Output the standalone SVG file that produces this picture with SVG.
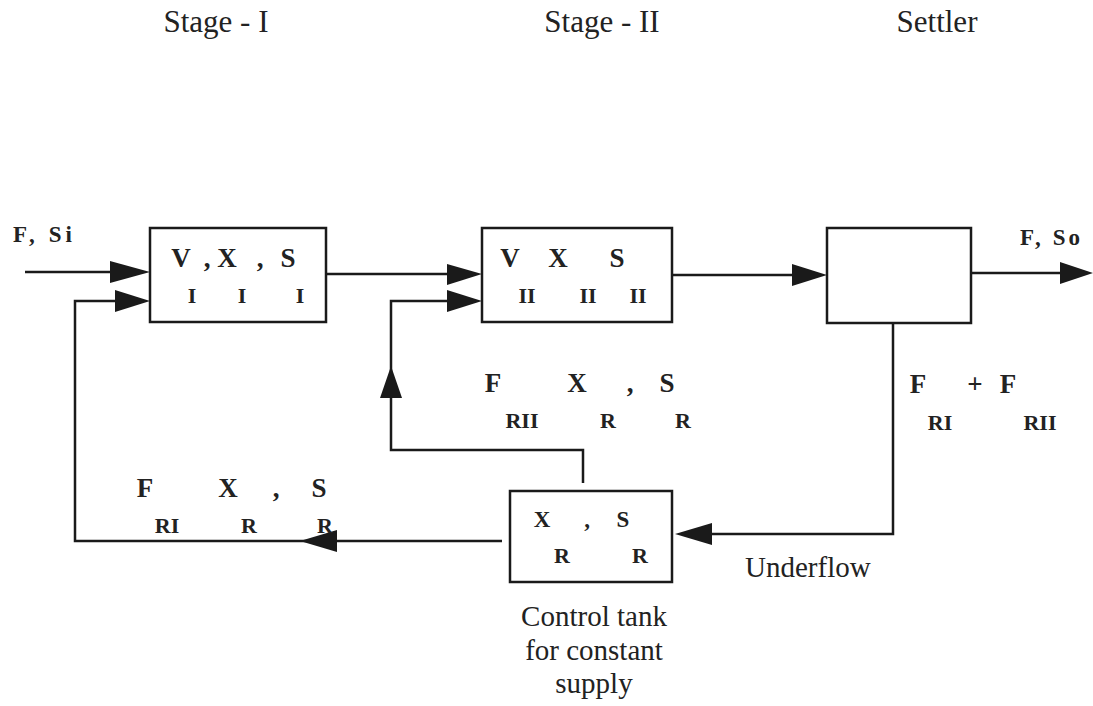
<svg xmlns="http://www.w3.org/2000/svg" width="1093" height="706" viewBox="0 0 1093 706">
<style>
  .bg { fill: #ffffff; }
  .box { fill: none; stroke: #1a1a1a; stroke-width: 2.5; }
  .line { fill: none; stroke: #1a1a1a; stroke-width: 2.5; stroke-linejoin: miter; }
  .head { fill: #1a1a1a; stroke: none; }
  text { font-family: "Liberation Serif", "DejaVu Serif", "Times New Roman", serif; fill: #222; }
  .title { font-size: 31px; }
  .cap { font-size: 29px; }
  .sym { font-size: 27px; font-weight: bold; text-anchor: middle; }
  .sub { font-size: 22px; font-weight: bold; text-anchor: middle; }
  .symS { font-size: 23px; font-weight: bold; text-anchor: middle; }
  .flow { font-size: 23px; font-weight: bold; }
</style>
<rect class="bg" x="0" y="0" width="1093" height="706"/>

<g id="titles">
  <text class="title" x="216" y="32" text-anchor="middle">Stage - I</text>
  <text class="title" x="602" y="32" text-anchor="middle">Stage - II</text>
  <text class="title" x="937" y="32" text-anchor="middle">Settler</text>
</g>

<g id="connectors">
  <!-- feed into stage I -->
  <path class="line" d="M25 272 H112"/>
  <polygon class="head" points="110,261 150,272 110,283"/>
  <!-- recycle RI into stage I -->
  <path class="line" d="M502 541 H75 V301 H117"/>
  <polygon class="head" points="115,290 150,301 115,312"/>
  <polygon class="head" points="300,541 337,530 337,552"/>
  <!-- stage I to stage II -->
  <path class="line" d="M326 274 H449"/>
  <polygon class="head" points="447,264 482,274 447,285"/>
  <!-- recycle RII into stage II -->
  <path class="line" d="M583 483 V450 H391 V301 H449"/>
  <polygon class="head" points="447,290 482,301 447,312"/>
  <polygon class="head" points="391,366 380,398 402,398"/>
  <!-- stage II to settler -->
  <path class="line" d="M672 275 H794"/>
  <polygon class="head" points="792,264 827,275 792,286"/>
  <!-- settler out -->
  <path class="line" d="M971 273 H1062"/>
  <polygon class="head" points="1060,262 1093,273 1060,284"/>
  <!-- underflow -->
  <path class="line" d="M893 323 V534 H710"/>
  <polygon class="head" points="675,534 712,523 712,545"/>
</g>

<g id="stage1">
  <rect class="box" x="150" y="228" width="176" height="94"/>
  <text class="sym" x="181" y="267">V</text>
  <text class="sym" x="207" y="267">,</text>
  <text class="sym" x="227" y="267">X</text>
  <text class="sym" x="260" y="267">,</text>
  <text class="sym" x="288" y="267">S</text>
  <text class="sub" x="192" y="303">I</text>
  <text class="sub" x="242" y="303">I</text>
  <text class="sub" x="300" y="303">I</text>
</g>

<g id="stage2">
  <rect class="box" x="482" y="228" width="190" height="94"/>
  <text class="sym" x="510" y="267">V</text>
  <text class="sym" x="558" y="267">X</text>
  <text class="sym" x="617" y="267">S</text>
  <text class="sub" x="527" y="303">II</text>
  <text class="sub" x="588" y="303">II</text>
  <text class="sub" x="638" y="303">II</text>
</g>

<g id="settler">
  <rect class="box" x="827" y="228" width="144" height="95"/>
</g>

<g id="control-tank">
  <rect class="box" x="510" y="491" width="162" height="91"/>
  <text class="symS" x="542" y="527">X</text>
  <text class="symS" x="587" y="527">,</text>
  <text class="symS" x="623" y="527">S</text>
  <text class="sub" x="562" y="563">R</text>
  <text class="sub" x="640" y="563">R</text>
  <text class="cap" x="594" y="626" text-anchor="middle">Control tank</text>
  <text class="cap" x="594" y="660" text-anchor="middle">for constant</text>
  <text class="cap" x="594" y="693" text-anchor="middle">supply</text>
</g>

<g id="labels">
  <text class="flow" x="13" y="242" textLength="59">F, Si</text>
  <text class="flow" x="1020" y="245" textLength="60">F, So</text>
  <!-- RII recycle label -->
  <text class="sym" x="493" y="392">F</text>
  <text class="sym" x="577" y="392">X</text>
  <text class="sym" x="630" y="392">,</text>
  <text class="sym" x="667" y="392">S</text>
  <text class="sub" x="522" y="428">RII</text>
  <text class="sub" x="608" y="428">R</text>
  <text class="sub" x="683" y="428">R</text>
  <!-- underflow label -->
  <text class="sym" x="918" y="393">F</text>
  <text class="sym" x="975" y="393">+</text>
  <text class="sym" x="1008" y="393">F</text>
  <text class="sub" x="940" y="430">RI</text>
  <text class="sub" x="1040" y="430">RII</text>
  <!-- RI recycle label -->
  <text class="sym" x="145" y="497">F</text>
  <text class="sym" x="228" y="497">X</text>
  <text class="sym" x="276" y="497">,</text>
  <text class="sym" x="319" y="497">S</text>
  <text class="sub" x="167" y="533">RI</text>
  <text class="sub" x="249" y="533">R</text>
  <text class="sub" x="325" y="533">R</text>
  <text class="cap" x="745" y="577">Underflow</text>
</g>
</svg>
